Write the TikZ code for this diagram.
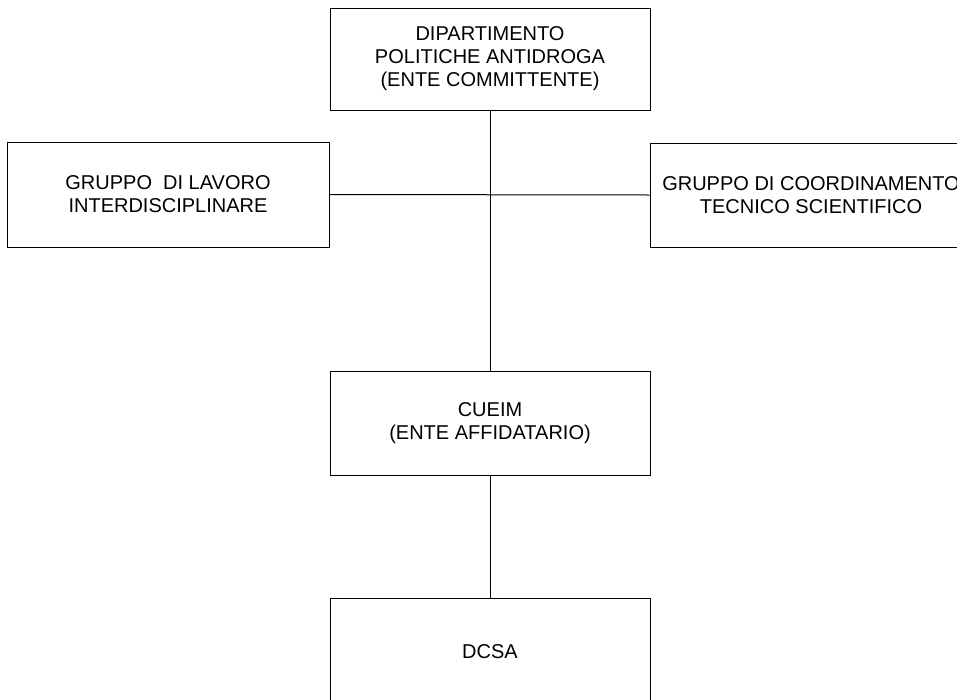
\documentclass[tikz,border=0pt]{standalone}
\usepackage{fontspec}
\setmainfont{Liberation Sans}
\begin{document}
\begin{tikzpicture}[x=1pt,y=1pt,
  box/.style={draw=black, line width=1pt, rectangle, inner sep=0pt, align=center,
    font=\fontsize{20}{23}\selectfont},
  link/.style={draw=black, line width=1pt}]
\useasboundingbox (0,0) rectangle (957,-699);
\fill[white] (0,0) rectangle (957,-699);
\node[box, minimum width=320, minimum height=102] (dpa) at (490,-59)
  {DIPARTIMENTO\\POLITICHE ANTIDROGA\\(ENTE COMMITTENTE)};
\node[box, minimum width=322, minimum height=105] (gli) at (168,-194.5)
  {GRUPPO\ \ DI LAVORO\\INTERDISCIPLINARE};
\node[box, minimum width=322, minimum height=104] (gcts) at (811,-195)
  {GRUPPO DI COORDINAMENTO\\TECNICO SCIENTIFICO};
\node[box, minimum width=320, minimum height=104] (cueim) at (490,-423)
  {CUEIM\\(ENTE AFFIDATARIO)};
\node[box, minimum width=320, minimum height=108] (dcsa) at (490,-652)
  {DCSA};
\draw[link] (dpa.south) -- (cueim.north);
\draw[link] (gli.east) -- (gcts.west);
\draw[link] (cueim.south) -- (dcsa.north);
\end{tikzpicture}
\end{document}
